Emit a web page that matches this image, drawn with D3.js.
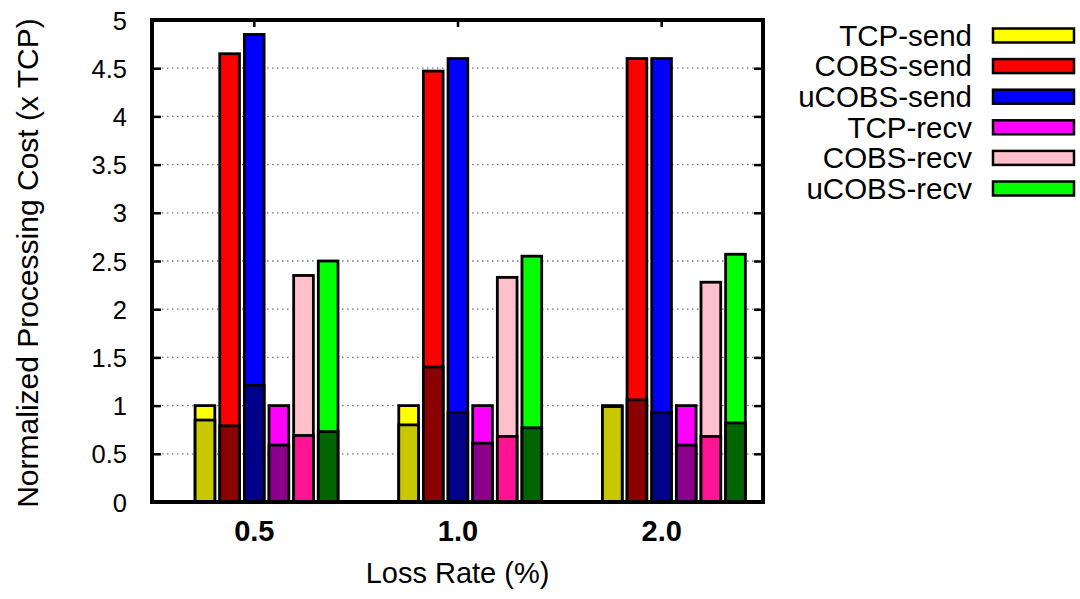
<!DOCTYPE html>
<meta charset="utf-8">
<style>
body { margin: 0; background: #fff; }
text { font-family: "Liberation Sans", Arial, Helvetica, sans-serif; fill: #000; }
.grid line { stroke: #777; stroke-width: 1.3; stroke-dasharray: 1.5 3.5; }
.bar { stroke: #000; stroke-width: 2.8; }
</style>
<body>
<script src="https://d3js.org/d3.v7.min.js"></script>
<script>

// loss rates on the x axis
var categories = ["0.5", "1.0", "2.0"];
var series = ["TCP-send", "COBS-send", "uCOBS-send", "TCP-recv", "COBS-recv", "uCOBS-recv"];
// total cost, one row per loss rate
var totals = [
  [1.00, 4.65, 4.85, 1.00, 2.35, 2.50],
  [1.00, 4.47, 4.60, 1.00, 2.33, 2.55],
  [1.00, 4.60, 4.60, 1.00, 2.28, 2.57]
];
// lower (dark) part of each bar
var inner = [
  [0.85, 0.79, 1.21, 0.59, 0.69, 0.73],
  [0.80, 1.40, 0.93, 0.61, 0.68, 0.77],
  [0.99, 1.06, 0.93, 0.59, 0.68, 0.82]
];
var yTicks = [0, 0.5, 1, 1.5, 2, 2.5, 3, 3.5, 4, 4.5, 5];
var lightColors = ["#ffff00", "#ff0000", "#0000ff", "#ff00ff", "#ffc0cb", "#00ff00"];
var darkColors = ["#c8c800", "#8b0000", "#00008b", "#8b008b", "#ff1493", "#006400"];

var margin = {top: 20, right: 317, bottom: 97, left: 152},
    width = 1080 - margin.left - margin.right,
    height = 599 - margin.top - margin.bottom;

var x = d3.scaleLinear().domain([-0.5, 2.5]).range([0, width]);
var y = d3.scaleLinear().domain([0, 5]).range([height, 0]);
// position of each series inside a cluster (in x units)
var sub = d3.scaleBand().domain(series).range([-2.5 / 8, 3.5 / 8]).padding(0.2);

var svg = d3.select("body").append("svg")
    .attr("width", 1080)
    .attr("height", 599);
var g = svg.append("g")
    .attr("transform", "translate(" + margin.left + "," + margin.top + ")");

// dotted grid
g.append("g").attr("class", "grid")
  .selectAll("line")
  .data(yTicks.filter(function(d) { return d > 0 && d < 5; }))
  .enter().append("line")
    .attr("x1", 0).attr("x2", width)
    .attr("y1", function(d) { return y(d); })
    .attr("y2", function(d) { return y(d); });

// flatten into rows
var rows = [];
categories.forEach(function(c, i) {
  series.forEach(function(s, j) {
    rows.push({ci: i, si: j, s: s, total: totals[i][j], inner: inner[i][j]});
  });
});

var bw = x(sub.bandwidth()) - x(0);

g.selectAll(".outer")
    .data(rows)
  .enter().append("rect")
    .attr("class", "bar outer")
    .attr("x", function(d) { return x(d.ci + sub(d.s)); })
    .attr("width", bw)
    .attr("y", function(d) { return y(d.total); })
    .attr("height", function(d) { return height - y(d.total); })
    .attr("fill", function(d) { return lightColors[d.si]; });

g.selectAll(".inner")
    .data(rows)
  .enter().append("rect")
    .attr("class", "bar inner")
    .attr("x", function(d) { return x(d.ci + sub(d.s)); })
    .attr("width", bw)
    .attr("y", function(d) { return y(d.inner); })
    .attr("height", function(d) { return height - y(d.inner); })
    .attr("fill", function(d) { return darkColors[d.si]; });

// axes
var yAxis = g.append("g")
    .call(d3.axisLeft(y).tickValues(yTicks).tickSize(-9).tickPadding(25).tickFormat(d3.format("")));
yAxis.select(".domain").remove();
yAxis.selectAll("line").attr("stroke-width", 2.5);
yAxis.selectAll("text").attr("font-size", 25.5).attr("dy", "0.36em");

var yAxisR = g.append("g")
    .attr("transform", "translate(" + width + ",0)")
    .call(d3.axisRight(y).tickValues(yTicks).tickSize(-9).tickFormat(""));
yAxisR.select(".domain").remove();
yAxisR.selectAll("line").attr("stroke-width", 2.5);

var xAxis = g.append("g")
    .attr("transform", "translate(0," + height + ")")
    .call(d3.axisBottom(x).tickValues([0, 1, 2]).tickSize(0).tickPadding(18)
      .tickFormat(function(d) { return categories[d]; }));
xAxis.select(".domain").remove();
xAxis.selectAll("text").attr("font-size", 29).attr("font-weight", "bold");

var xAxisT = g.append("g")
    .call(d3.axisTop(x).tickValues([0, 1, 2]).tickSize(-7).tickFormat(""));
xAxisT.select(".domain").remove();
xAxisT.selectAll("line").attr("stroke-width", 2.5);

// frame
g.append("rect")
    .attr("width", width).attr("height", height)
    .attr("fill", "none").attr("stroke", "#000").attr("stroke-width", 4);

// axis titles
svg.append("text")
    .attr("transform", "translate(38," + (margin.top + height / 2 + 2) + ") rotate(-90)")
    .attr("text-anchor", "middle")
    .attr("font-size", 30)
    .text("Normalized Processing Cost (x TCP)");

svg.append("text")
    .attr("x", margin.left + width / 2)
    .attr("y", 583)
    .attr("text-anchor", "middle")
    .attr("font-size", 29)
    .text("Loss Rate (%)");

// legend
var legend = svg.append("g").selectAll("g")
    .data(series)
  .enter().append("g")
    .attr("transform", function(d, i) { return "translate(0," + (35.5 + i * 30.6) + ")"; });

legend.append("text")
    .attr("x", 972)
    .attr("dy", "0.35em")
    .attr("text-anchor", "end")
    .attr("font-size", 29.5)
    .text(function(d) { return d; });

legend.append("rect")
    .attr("x", 993).attr("y", -7)
    .attr("width", 81).attr("height", 14)
    .attr("fill", function(d, i) { return lightColors[i]; })
    .attr("stroke", "#000").attr("stroke-width", 2.5);

</script>
</body>
